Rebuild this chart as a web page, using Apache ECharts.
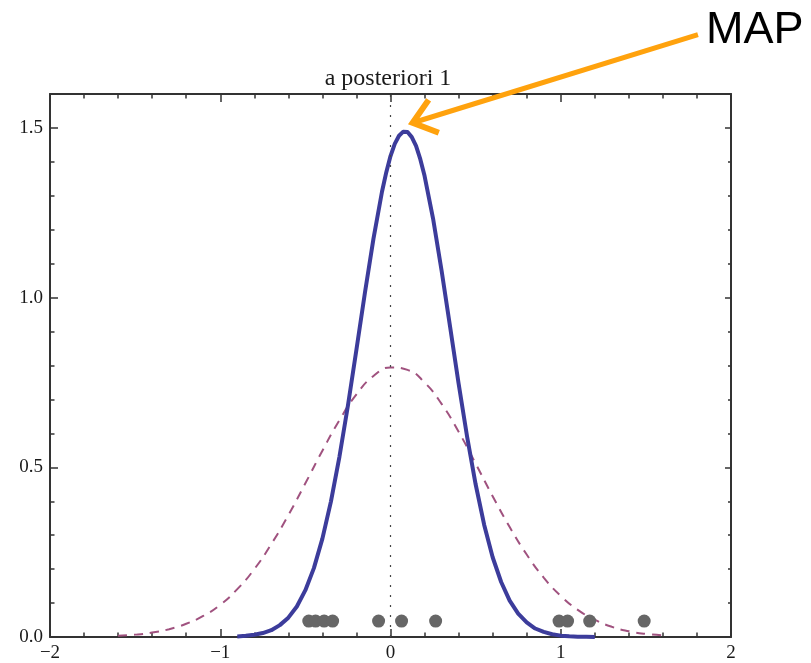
<!DOCTYPE html>
<html>
<head>
<meta charset="utf-8">
<script src="https://cdn.jsdelivr.net/npm/echarts@6/dist/echarts.min.js"></script>
<style>
  html, body { margin: 0; background: #fff; }
  #chart { width: 811px; height: 663px; }
</style>
</head>
<body>
<div id="chart"></div>
<script>
// posterior (solid blue)
const postX = [-0.9, -0.85, -0.8, -0.75, -0.7, -0.65, -0.6, -0.55, -0.5, -0.45, -0.4, -0.35, -0.3, -0.25, -0.2, -0.15, -0.1, -0.05, -0.025,
  0, 0.025, 0.05, 0.075, 0.1, 0.125, 0.15, 0.175, 0.2, 0.25, 0.3, 0.35, 0.4, 0.45, 0.5, 0.55, 0.6, 0.65, 0.7, 0.75, 0.8, 0.85, 0.9, 0.95, 1.0, 1.05, 1.1, 1.15, 1.2];
const postY = [0.0017, 0.0034, 0.0064, 0.0117, 0.020, 0.035, 0.057, 0.090, 0.138, 0.203, 0.290, 0.399, 0.531, 0.682, 0.847, 1.015, 1.174, 1.312, 1.369,
  1.417, 1.453, 1.477, 1.489, 1.488, 1.473, 1.447, 1.408, 1.359, 1.233, 1.080, 0.914, 0.747, 0.590, 0.450, 0.331, 0.235, 0.162, 0.107, 0.069, 0.043, 0.025, 0.015, 0.008, 0.004, 0.002, 0.001, 0.0006, 0];

// prior (dashed)
const priorX = [-1.6, -1.5, -1.4, -1.3, -1.2, -1.1, -1.0, -0.9, -0.8, -0.7, -0.6, -0.5, -0.4, -0.3, -0.2, -0.1,
  0, 0.1, 0.2, 0.3, 0.4, 0.5, 0.6, 0.7, 0.8, 0.9, 1.0, 1.1, 1.2, 1.3, 1.4, 1.5, 1.6];
const priorY = [0.004, 0.007, 0.013, 0.023, 0.039, 0.062, 0.095, 0.141, 0.200, 0.274, 0.359, 0.453, 0.549, 0.639, 0.715, 0.769,
  0.794, 0.787, 0.750, 0.687, 0.605, 0.511, 0.415, 0.324, 0.243, 0.175, 0.121, 0.080, 0.051, 0.030, 0.017, 0.009, 0.005];

// observations (grey dots)
const obsX = [-0.48, -0.44, -0.39, -0.34, -0.07, 0.065, 0.265, 0.99, 1.04, 1.17, 1.49];
const obsLevel = 0.047;

const xTicks = [-2, -1, 0, 1, 2];
const yTicks = [0, 0.5, 1.0, 1.5];

// annotation anchors (data space)
const mapTip = [0.13, 1.515];
const mapTail = [1.806, 1.775];

const frame = '#333';
const serif = '"Liberation Serif", "DejaVu Serif", serif';

const chart = echarts.init(document.getElementById('chart'));

function xAx(pos, showLabel, len, minorLen) {
  return {
    type: 'value', min: xTicks[0], max: xTicks[xTicks.length - 1], interval: 1, position: pos,
    axisLine: { show: true, onZero: false, lineStyle: { color: frame, width: 2 } },
    axisTick: { show: true, inside: true, length: len, lineStyle: { color: frame, width: 1.5 } },
    minorTick: { show: true, splitNumber: 5, length: minorLen, lineStyle: { color: frame, width: 1.5 } },
    splitLine: { show: false }, minorSplitLine: { show: false },
    axisLabel: {
      show: showLabel, margin: 7, color: '#1a1a1a', fontFamily: serif, fontSize: 19,
      formatter: v => (v < 0 ? '\u2212' + (-v) : String(v))
    }
  };
}

function yAx(pos, interval, showLine, showLabel, len) {
  return {
    type: 'value', min: 0, max: 1.6, interval: interval, position: pos,
    axisLine: { show: showLine, onZero: false, lineStyle: { color: frame, width: 2 } },
    axisTick: { show: true, inside: true, length: len, lineStyle: { color: frame, width: 1.5 } },
    splitLine: { show: false },
    axisLabel: {
      show: showLabel, margin: 7, color: '#1a1a1a', fontFamily: serif, fontSize: 19,
      formatter: v => (yTicks.some(t => Math.abs(t - v) < 1e-6) ? v.toFixed(1) : '')
    }
  };
}

chart.setOption({
  animation: false,
  backgroundColor: '#fff',
  grid: { left: 50, right: 80, top: 94, bottom: 26, outerBoundsMode: 'none', containLabel: false },
  xAxis: [xAx('bottom', true, 8, 4.5), xAx('top', false, 8, 4.5)],
  yAxis: [
    yAx('left', 0.5, true, true, 8),
    yAx('left', 0.1, false, false, 4.5),
    yAx('right', 0.5, true, false, 6),
    yAx('right', 0.1, false, false, 3)
  ],
  series: [
    {
      name: 'prior',
      type: 'line',
      smooth: true,
      showSymbol: false,
      data: priorX.map((x, i) => [x, priorY[i]]),
      lineStyle: { color: '#a0527f', width: 2, type: [9, 7] },
      markLine: {
        silent: true,
        symbol: 'none',
        label: { show: false },
        lineStyle: { color: '#444', width: 1.2, type: [2, 8] },
        data: [{ xAxis: 0 }]
      },
      z: 2
    },
    {
      name: 'posterior',
      type: 'line',
      smooth: false,
      showSymbol: false,
      data: postX.map((x, i) => [x, postY[i]]),
      lineStyle: { color: '#3c3c9b', width: 4, join: 'round' },
      z: 3
    },
    {
      name: 'data',
      type: 'scatter',
      symbolSize: 13,
      data: obsX.map(x => [x, obsLevel]),
      itemStyle: { color: '#666', opacity: 1 },
      z: 4
    }
  ]
});

// arrow + labels
const tip = chart.convertToPixel({ xAxisIndex: 0, yAxisIndex: 0 }, mapTip);
const tail = chart.convertToPixel({ xAxisIndex: 0, yAxisIndex: 0 }, mapTail);
const dx = tip[0] - tail[0], dy = tip[1] - tail[1];
const d = Math.hypot(dx, dy);
const ux = dx / d, uy = dy / d;
const headLen = 28, ang = 38 * Math.PI / 180;
const back = headLen * Math.cos(ang), side = headLen * Math.sin(ang);
const w1 = [tip[0] - ux * back + uy * side, tip[1] - uy * back - ux * side];
const w2 = [tip[0] - ux * back - uy * side, tip[1] - uy * back + ux * side];
const orange = '#ffa20d';

chart.setOption({
  graphic: [
    {
      type: 'text', x: 388, y: 79, z: 10,
      style: { text: 'a posteriori 1', font: '24px ' + serif, fill: '#1a1a1a', align: 'center', verticalAlign: 'middle' }
    },
    {
      type: 'text', x: 706, y: 31, z: 10,
      style: { text: 'MAP', font: '45px "Liberation Sans", Arial, sans-serif', fill: '#000', align: 'left', verticalAlign: 'middle' }
    },
    {
      type: 'line', z: 10,
      shape: { x1: tail[0], y1: tail[1], x2: tip[0] - ux * 2, y2: tip[1] - uy * 2 },
      style: { stroke: orange, lineWidth: 5, lineCap: 'butt' }
    },
    {
      type: 'polyline', z: 10,
      shape: { points: [w1, tip, w2] },
      style: { stroke: orange, lineWidth: 6, lineJoin: 'miter', fill: null }
    }
  ]
});
</script>
</body>
</html>
